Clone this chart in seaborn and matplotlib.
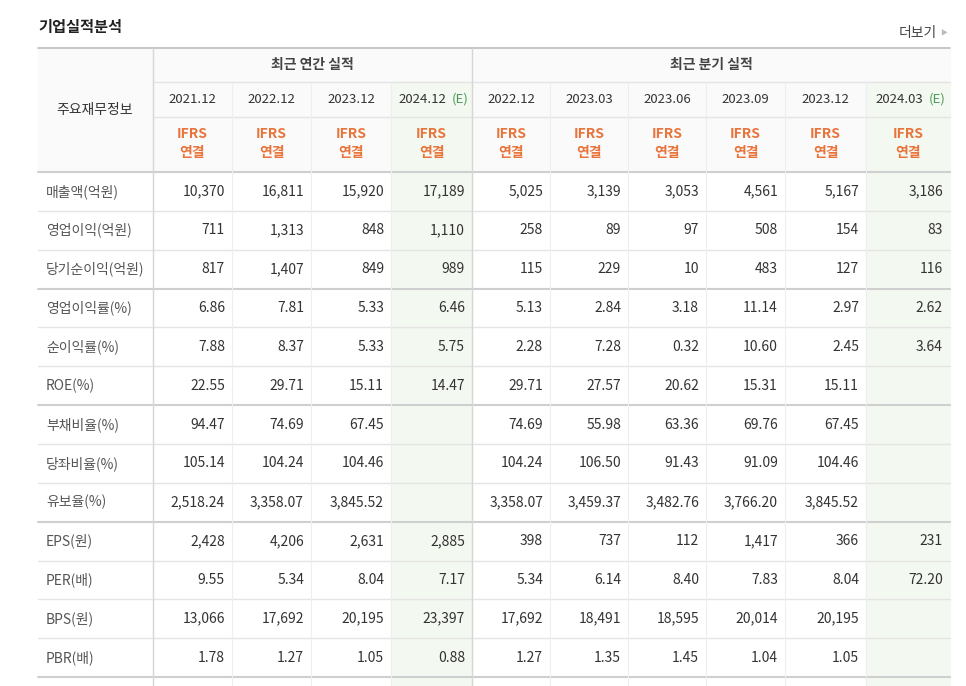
import matplotlib.pyplot as plt
import seaborn as sns
from matplotlib.patches import Rectangle

sns.set_theme(style="white")
plt.rcParams["font.family"] = ["Noto Sans CJK KR", "Noto Sans CJK JP", "Noto Sans CJK SC",
                               "DejaVu Sans"]

# ---- data ----
annual_dates = ["2021.12", "2022.12", "2023.12", "2024.12"]
quarter_dates = ["2022.12", "2023.03", "2023.06", "2023.09", "2023.12", "2024.03"]
row_labels = ["매출액(억원)", "영업이익(억원)", "당기순이익(억원)", "영업이익률(%)", "순이익률(%)",
              "ROE(%)", "부채비율(%)", "당좌비율(%)", "유보율(%)", "EPS(원)", "PER(배)",
              "BPS(원)", "PBR(배)"]
annual_vals = [
    ["10,370", "16,811", "15,920", "17,189"],
    ["711", "1,313", "848", "1,110"],
    ["817", "1,407", "849", "989"],
    ["6.86", "7.81", "5.33", "6.46"],
    ["7.88", "8.37", "5.33", "5.75"],
    ["22.55", "29.71", "15.11", "14.47"],
    ["94.47", "74.69", "67.45", ""],
    ["105.14", "104.24", "104.46", ""],
    ["2,518.24", "3,358.07", "3,845.52", ""],
    ["2,428", "4,206", "2,631", "2,885"],
    ["9.55", "5.34", "8.04", "7.17"],
    ["13,066", "17,692", "20,195", "23,397"],
    ["1.78", "1.27", "1.05", "0.88"],
]
quarter_vals = [
    ["5,025", "3,139", "3,053", "4,561", "5,167", "3,186"],
    ["258", "89", "97", "508", "154", "83"],
    ["115", "229", "10", "483", "127", "116"],
    ["5.13", "2.84", "3.18", "11.14", "2.97", "2.62"],
    ["2.28", "7.28", "0.32", "10.60", "2.45", "3.64"],
    ["29.71", "27.57", "20.62", "15.31", "15.11", ""],
    ["74.69", "55.98", "63.36", "69.76", "67.45", ""],
    ["104.24", "106.50", "91.43", "91.09", "104.46", ""],
    ["3,358.07", "3,459.37", "3,482.76", "3,766.20", "3,845.52", ""],
    ["398", "737", "112", "1,417", "366", "231"],
    ["5.34", "6.14", "8.40", "7.83", "8.04", "72.20"],
    ["17,692", "18,491", "18,595", "20,014", "20,195", ""],
    ["1.27", "1.35", "1.45", "1.04", "1.05", ""],
]

# ---- layout (pixel coordinates) ----
fig = plt.figure(figsize=(9.66, 6.86), dpi=100)
ax = fig.add_axes([0, 0, 1, 1])
ax.set_xlim(0, 966)
ax.set_ylim(686, 0)
ax.axis("off")

col_edges = [38, 153, 232, 311, 391, 472, 550, 628, 706, 785, 866, 950]
y_top, y_grp, y_date, y_head = 48, 82, 117, 172
row_h = 38.85
n_rows = len(row_labels)
y_end = 686

dark = "#333333"
orange = "#e8743b"
line = "#e4e4e4"
green_bg = "#f3f8f0"

# header background
ax.add_patch(Rectangle((38, y_top), 912, y_head - y_top, color="#fafafa", zorder=0))
# estimate columns
for ci in (4, 10):
    ax.add_patch(Rectangle((col_edges[ci], y_grp), col_edges[ci + 1] - col_edges[ci],
                           y_end - y_grp, color=green_bg, zorder=0.5))

# title
ax.text(38, 27, "기업실적분석", fontsize=11, fontweight="bold", color="#222222", va="center")
ax.text(937, 33, "더보기", fontsize=10, color="#444444", va="center", ha="right")
ax.text(944, 33, "▶", fontsize=5, color="#bbbbbb", va="center", ha="center")

# horizontal lines
ax.plot([38, 950], [y_top, y_top], color="#bdbdbd", lw=1.2)
ax.plot([153, 950], [y_grp, y_grp], color=line, lw=1)
ax.plot([153, 950], [y_date, y_date], color=line, lw=1)
ax.plot([38, 950], [y_head, y_head], color="#cfcfcf", lw=1.5)
for r in range(1, n_rows + 1):
    y = y_head + r * row_h
    thick = r in (3, 6, 9, 13)
    ax.plot([38, 950], [y, y], color="#cfcfcf" if thick else line, lw=1.5 if thick else 1)

# vertical lines
ax.plot([153, 153], [y_top, y_end], color="#d6d6d6", lw=1)
ax.plot([472, 472], [y_top, y_end], color="#d6d6d6", lw=1)
for x in col_edges[2:-1]:
    if x != 472:
        ax.plot([x, x], [y_grp, y_end], color="#eeeeee", lw=0.8)

# header texts
ax.text(95, (y_top + y_head) / 2, "주요재무정보", fontsize=10, color=dark, ha="center", va="center")
ax.text((153 + 472) / 2, (y_top + y_grp) / 2, "최근 연간 실적", fontsize=10, fontweight="bold",
        color="#444444", ha="center", va="center")
ax.text((472 + 950) / 2, (y_top + y_grp) / 2, "최근 분기 실적", fontsize=10, fontweight="bold",
        color="#444444", ha="center", va="center")
dates = annual_dates + quarter_dates
for i, d in enumerate(dates):
    xc = (col_edges[i + 1] + col_edges[i + 2]) / 2
    yc = (y_grp + y_date) / 2
    if i in (3, 9):
        ax.text(xc - 9, yc, d, fontsize=9.5, color=dark, ha="center", va="center")
        ax.text(xc + 29, yc, "(E)", fontsize=9.5, color="#4a9a5a", ha="center", va="center")
    else:
        ax.text(xc, yc, d, fontsize=9.5, color=dark, ha="center", va="center")
    ax.text(xc, y_date + 17, "IFRS", fontsize=10, fontweight="bold", color=orange,
            ha="center", va="center")
    ax.text(xc, y_date + 36, "연결", fontsize=10, fontweight="bold", color=orange,
            ha="center", va="center")

# body
for r, lab in enumerate(row_labels):
    yc = y_head + (r + 0.5) * row_h
    ax.text(46, yc, lab, fontsize=10, color="#555555", ha="left", va="center")
    vals = annual_vals[r] + quarter_vals[r]
    for i, v in enumerate(vals):
        if v:
            ax.text(col_edges[i + 2] - 7, yc, v, fontsize=10, color=dark, ha="right", va="center")

fig.savefig("out.png", dpi=100)
